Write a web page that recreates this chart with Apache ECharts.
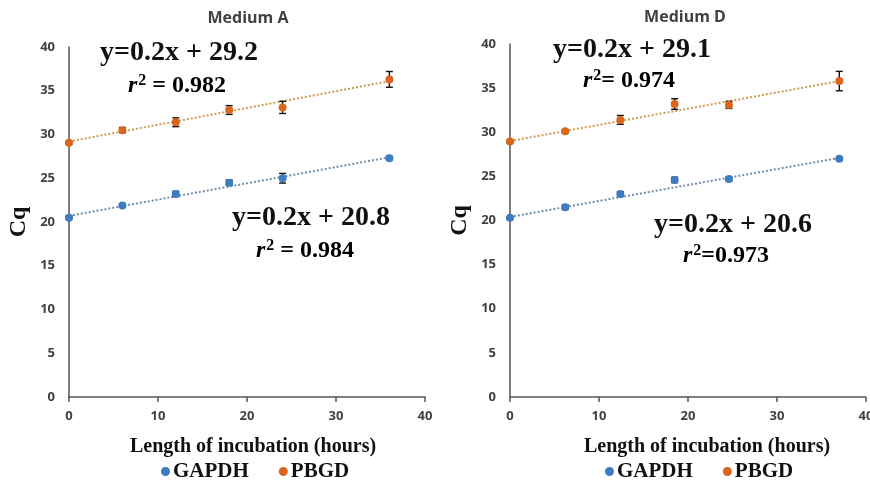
<!DOCTYPE html>
<html>
<head>
<meta charset="utf-8">
<script src="https://cdn.jsdelivr.net/npm/echarts@6/dist/echarts.min.js"></script>
<style>
  html, body { margin: 0; padding: 0; background: #fff; }
  #chart { width: 870px; height: 481px; }
</style>
</head>
<body>
<div id="chart"></div>
<script>
// medium A
var hoursA = [0, 6, 12, 18, 24, 36];
var gapdhA = [20.5, 21.9, 23.2, 24.5, 25.0, 27.3];
var gapdhErrA = [0.2, 0.2, 0.3, 0.3, 0.55, 0.2];
var pbgdA = [29.05, 30.5, 31.4, 32.8, 33.1, 36.3];
var pbgdErrA = [0.15, 0.3, 0.5, 0.5, 0.7, 0.9];
var trendGapdhA = [[0, 20.7], [36, 27.4]];
var trendPbgdA = [[0, 29.2], [36, 36.1]];

// medium D
var hoursD = [0, 6.2, 12.4, 18.5, 24.6, 37];
var gapdhD = [20.3, 21.5, 23.0, 24.6, 24.7, 27.0];
var gapdhErrD = [0.1, 0.25, 0.25, 0.3, 0.2, 0.1];
var pbgdD = [28.95, 30.1, 31.4, 33.2, 33.1, 35.8];
var pbgdErrD = [0.15, 0.2, 0.5, 0.6, 0.4, 1.1];
var trendGapdhD = [[0, 20.4], [37, 27.1]];
var trendPbgdD = [[0, 29.0], [37, 35.8]];

var xTicks = [0, 10, 20, 30, 40];
var yTicks = [0, 5, 10, 15, 20, 25, 30, 35, 40];

var blue = "#3d7cc0";
var orange = "#d9661c";
var serif = "'Liberation Serif', 'DejaVu Serif', serif";
var sans = "'Open Sans', 'Noto Sans', sans-serif";

function pairs(xs, ys, errs) {
  return xs.map(function(x, i) {
    return errs ? [x, ys[i], errs[i]] : [x, ys[i]];
  });
}

function errorSeries(idx, xs, ys, errs) {
  return {
    type: "custom",
    xAxisIndex: idx,
    yAxisIndex: idx,
    silent: true,
    z: 3,
    data: pairs(xs, ys, errs),
    renderItem: function(params, api) {
      var x = api.value(0), y = api.value(1), e = api.value(2);
      var hi = api.coord([x, y + e]);
      var lo = api.coord([x, y - e]);
      var w = 3.5;
      var st = { stroke: "#111", lineWidth: 1.4 };
      return {
        type: "group",
        children: [
          { type: "line", shape: { x1: hi[0], y1: hi[1], x2: lo[0], y2: lo[1] }, style: st },
          { type: "line", shape: { x1: hi[0] - w, y1: hi[1], x2: hi[0] + w, y2: hi[1] }, style: st },
          { type: "line", shape: { x1: lo[0] - w, y1: lo[1], x2: lo[0] + w, y2: lo[1] }, style: st }
        ]
      };
    }
  };
}

function trendSeries(idx, pts, color) {
  return {
    type: "line",
    xAxisIndex: idx,
    yAxisIndex: idx,
    data: pts,
    symbol: "none",
    silent: true,
    z: 1,
    lineStyle: { color: color, width: 2, type: [2, 2] }
  };
}

function scatter(idx, name, xs, ys, color) {
  return {
    name: name,
    type: "scatter",
    xAxisIndex: idx,
    yAxisIndex: idx,
    data: pairs(xs, ys),
    symbolSize: 8,
    z: 4,
    itemStyle: { color: color, opacity: 1 }
  };
}

function xAxis(idx, shift) {
  return {
    gridIndex: idx,
    type: "value",
    min: xTicks[0],
    max: xTicks[xTicks.length - 1],
    interval: 10,
    name: "Length of incubation (hours)",
    nameLocation: "middle",
    nameGap: 40,
    nameTextStyle: { fontFamily: serif, fontWeight: "bold", fontSize: 20, color: "#111",
      padding: [0, 0, 0, shift] },
    splitLine: { show: false },
    axisLine: { lineStyle: { color: "#555", width: 1.5 } },
    axisTick: { show: true, length: 5, lineStyle: { color: "#555", width: 1.5 } },
    axisLabel: { margin: 13, fontFamily: sans, fontWeight: "bold", fontSize: 13, color: "#404040" }
  };
}

function yAxis(idx) {
  return {
    gridIndex: idx,
    type: "value",
    min: yTicks[0],
    max: yTicks[yTicks.length - 1],
    interval: 5,
    name: "Cq",
    nameLocation: "middle",
    nameGap: 38,
    nameTextStyle: { fontFamily: serif, fontWeight: "bold", fontSize: 24, color: "#111" },
    splitLine: { show: false },
    axisLine: { show: true, lineStyle: { color: "#555", width: 1.5 } },
    axisTick: { show: false },
    axisLabel: { margin: 14, fontFamily: sans, fontWeight: "bold", fontSize: 13, color: "#404040" }
  };
}

var rich = {
  i: { fontFamily: serif, fontStyle: "italic", fontWeight: "bold", fontSize: 24, color: "#111" },
  s: { fontFamily: serif, fontWeight: "bold", fontSize: 16, color: "#111", verticalAlign: "top", padding: [0, 0, 10, 1] },
  t: { fontFamily: serif, fontWeight: "bold", fontSize: 24, color: "#111" }
};

function eqText(x, y, txt) {
  return {
    type: "text", left: x, top: y,
    style: { text: txt, font: "bold 28px " + serif, fill: "#111" }
  };
}

function r2Text(x, y, txt) {
  return {
    type: "text", left: x, top: y,
    style: { text: "{i|r}{s|2}{t|" + txt + "}", rich: rich }
  };
}

function legend(left) {
  return {
    left: left,
    top: 456,
    icon: "circle",
    itemWidth: 9,
    itemHeight: 9,
    itemGap: 30,
    data: ["GAPDH", "PBGD"],
    textStyle: { fontFamily: serif, fontWeight: "bold", fontSize: 21, color: "#111", padding: [0, 0, 0, -2] }
  };
}

var chart = echarts.init(document.getElementById("chart"));
chart.setOption({
  animation: false,
  color: [blue, orange],
  title: [
    { text: "Medium A", left: 243, top: 5, textAlign: "center",
      textStyle: { fontFamily: sans, fontWeight: "bold", fontSize: 16, color: "#404040" } },
    { text: "Medium D", left: 680, top: 4, textAlign: "center",
      textStyle: { fontFamily: sans, fontWeight: "bold", fontSize: 16, color: "#404040" } }
  ],
  legend: [legend(156), legend(600)],
  grid: [
    { left: 69, top: 47, width: 356, height: 350, outerBoundsMode: "none" },
    { left: 510, top: 44, width: 356, height: 353, outerBoundsMode: "none" }
  ],
  xAxis: [xAxis(0, 12), xAxis(1, 38)],
  yAxis: [yAxis(0), yAxis(1)],
  series: [
    trendSeries(0, trendGapdhA, "#6f8eab"),
    trendSeries(0, trendPbgdA, "#cf9a52"),
    errorSeries(0, hoursA, gapdhA, gapdhErrA),
    errorSeries(0, hoursA, pbgdA, pbgdErrA),
    scatter(0, "GAPDH", hoursA, gapdhA, blue),
    scatter(0, "PBGD", hoursA, pbgdA, orange),
    trendSeries(1, trendGapdhD, "#6f8eab"),
    trendSeries(1, trendPbgdD, "#cf9a52"),
    errorSeries(1, hoursD, gapdhD, gapdhErrD),
    errorSeries(1, hoursD, pbgdD, pbgdErrD),
    scatter(1, "GAPDH", hoursD, gapdhD, blue),
    scatter(1, "PBGD", hoursD, pbgdD, orange)
  ],
  graphic: [
    eqText(100, 39, "y=0.2x + 29.2"),
    r2Text(128, 73, " = 0.982"),
    eqText(232, 204, "y=0.2x + 20.8"),
    r2Text(256, 238, " = 0.984"),
    eqText(553, 36, "y=0.2x + 29.1"),
    r2Text(583, 68, "= 0.974"),
    eqText(654, 211, "y=0.2x + 20.6"),
    r2Text(683, 243, "=0.973")
  ]
});
</script>
</body>
</html>
